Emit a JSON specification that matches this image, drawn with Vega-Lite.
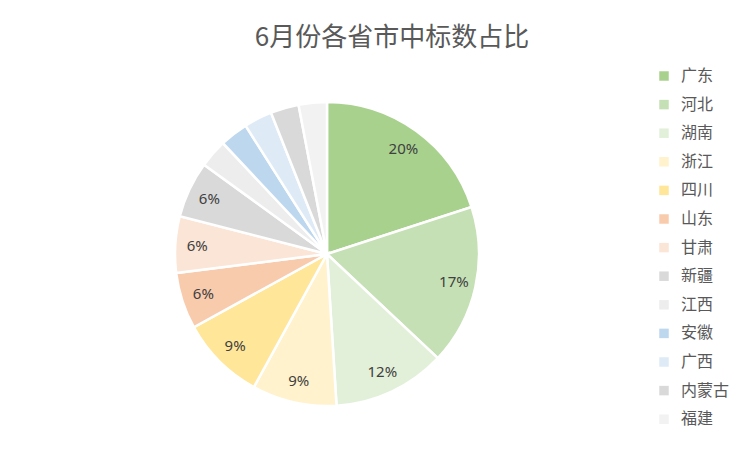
{
  "$schema": "https://vega.github.io/schema/vega-lite/v6.json",
  "autosize": {"type": "none"},
  "width": 654,
  "height": 388,
  "padding": {"top": 60, "left": 0, "right": 98, "bottom": 4},
  "background": "white",
  "config": {"view": {"stroke": null}, "font": "Noto Sans CJK SC"},
  "title": {
    "text": "6月份各省市中标数占比",
    "fontSize": 26,
    "fontWeight": "normal",
    "color": "#595959",
    "anchor": "middle",
    "dx": 65,
    "offset": 9,
    "font": "Noto Sans CJK SC"
  },
  "data": {
    "values": [
      {"i": 1, "province": "广东", "share": 0.20},
      {"i": 2, "province": "河北", "share": 0.17},
      {"i": 3, "province": "湖南", "share": 0.12},
      {"i": 4, "province": "浙江", "share": 0.09},
      {"i": 5, "province": "四川", "share": 0.09},
      {"i": 6, "province": "山东", "share": 0.06},
      {"i": 7, "province": "甘肃", "share": 0.06},
      {"i": 8, "province": "新疆", "share": 0.06},
      {"i": 9, "province": "江西", "share": 0.03},
      {"i": 10, "province": "安徽", "share": 0.03},
      {"i": 11, "province": "广西", "share": 0.03},
      {"i": 12, "province": "内蒙古", "share": 0.03},
      {"i": 13, "province": "福建", "share": 0.03}
    ]
  },
  "encoding": {
    "theta": {"field": "share", "type": "quantitative", "stack": true},
    "order": {"field": "i", "type": "quantitative"},
    "color": {
      "field": "province",
      "type": "nominal",
      "scale": {
        "domain": ["广东", "河北", "湖南", "浙江", "四川", "山东", "甘肃", "新疆", "江西", "安徽", "广西", "内蒙古", "福建"],
        "range": ["#a9d18e", "#c5e0b4", "#e2f0d9", "#fff2cc", "#ffe699", "#f8cbad", "#fbe5d6", "#d9d9d9", "#ededed", "#bdd7ee", "#deebf7", "#d9d9d9", "#f2f2f2"]
      },
      "legend": {
        "title": null,
        "orient": "none",
        "legendX": 656,
        "legendY": 8,
        "symbolType": "square",
        "symbolSize": 90,
        "symbolStrokeWidth": 0,
        "labelFontSize": 16,
        "labelColor": "#595959",
        "labelOffset": 9,
        "rowPadding": 12.6,
        "labelFont": "Noto Sans CJK SC"
      }
    }
  },
  "layer": [
    {
      "mark": {"type": "arc", "outerRadius": 152, "stroke": "white", "strokeWidth": 2.5}
    },
    {
      "transform": [{"filter": "datum.share >= 0.06"}],
      "mark": {"type": "text", "radius": 130, "fontSize": 15, "font": "Noto Sans"},
      "encoding": {
        "text": {"field": "share", "type": "quantitative", "format": ".0%"},
        "color": {"value": "#404040"}
      }
    }
  ]
}
